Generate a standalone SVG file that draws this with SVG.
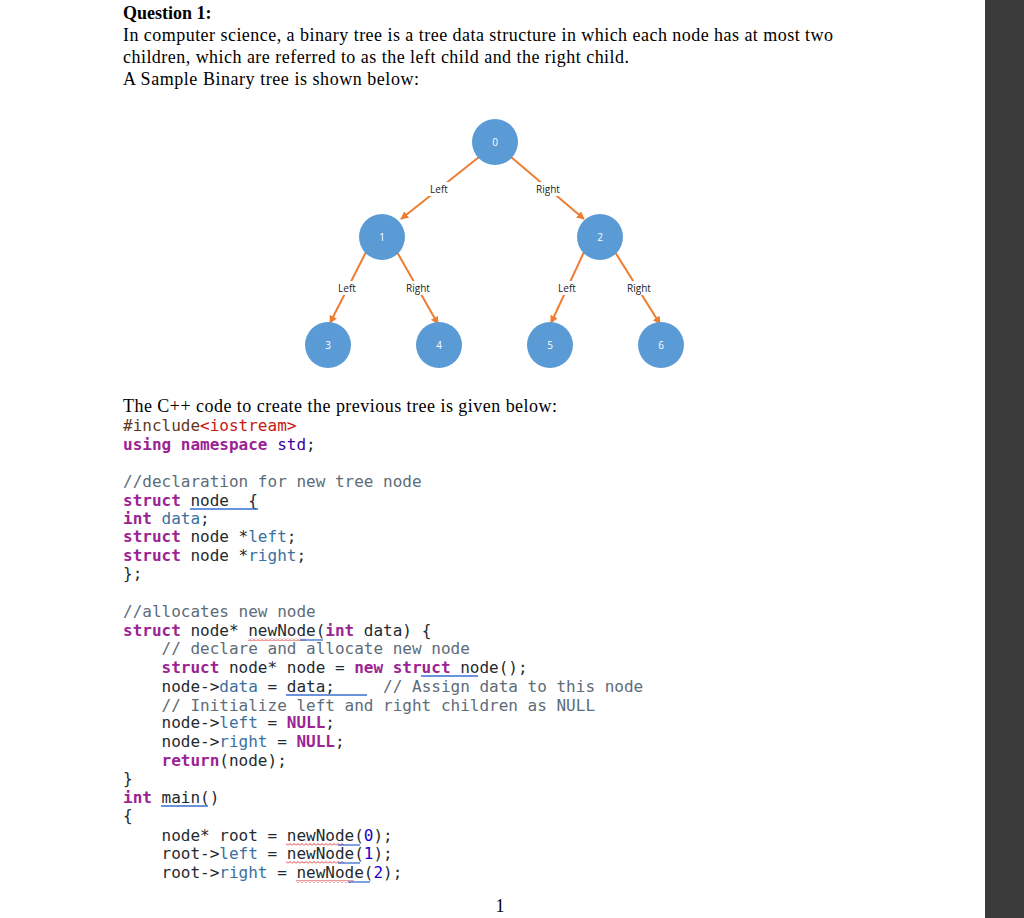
<svg xmlns="http://www.w3.org/2000/svg" width="1024" height="918" viewBox="0 0 1024 918">
<defs>
<style>
.q{font-family:"Liberation Serif",serif;font-size:18px;fill:#000}
.c{font-family:"DejaVu Sans Mono",monospace;font-size:16px;fill:#1f2a30;white-space:pre}
.k{fill:#9b2393;font-weight:bold}
.m{fill:#5d6c79}
.f{fill:#3a6fa0}
.n{fill:#1c00cf}
.lbl{font-family:"Open Sans","Liberation Sans",sans-serif;font-size:10px;fill:#222;text-anchor:middle}
.nd{fill:#5b9bd5}
.nt{font-family:"Open Sans","Liberation Sans",sans-serif;font-size:10px;fill:#fff;text-anchor:middle}
.e{stroke:#ed7d31;stroke-width:2;fill:none;marker-end:url(#ah)}
.u{stroke:#3a6fd0;stroke-width:1.3}
</style>
<marker id="ah" viewBox="0 0 10 10" refX="9" refY="5" markerWidth="4" markerHeight="4" orient="auto"><path d="M0,0L10,5L0,10z" fill="#ed7d31"/></marker>
<pattern id="sq" width="4" height="3" patternUnits="userSpaceOnUse"><path d="M0,2.5L2,0.5L4,2.5" stroke="#e02020" stroke-width="0.9" fill="none"/></pattern>
</defs>
<rect width="1024" height="918" fill="#fff"/>
<rect x="985" y="0" width="39" height="918" fill="#3b3b3b"/>
<text class="q" x="123" y="19" font-weight="bold">Question 1:</text>
<text class="q" x="123" y="41" textLength="710">In computer science, a binary tree is a tree data structure in which each node has at most two</text>
<text class="q" x="123" y="63" textLength="506">children, which are referred to as the left child and the right child.</text>
<text class="q" x="123" y="85" textLength="296">A Sample Binary tree is shown below:</text>
<g id="connectors">
<line class="e" x1="479" y1="157" x2="401" y2="219"/>
<line class="e" x1="511" y1="157" x2="584" y2="219"/>
<line class="e" x1="366" y1="252" x2="330" y2="323"/>
<line class="e" x1="397" y1="252" x2="438" y2="324"/>
<line class="e" x1="584" y1="252" x2="551" y2="323"/>
<line class="e" x1="615" y1="252" x2="660" y2="324"/>
<rect x="425" y="182" width="28" height="14" fill="#fff"/><text class="lbl" x="439" y="193">Left</text>
<rect x="532" y="182" width="32" height="14" fill="#fff"/><text class="lbl" x="548" y="193">Right</text>
<rect x="333" y="281" width="28" height="14" fill="#fff"/><text class="lbl" x="347" y="292">Left</text>
<rect x="402" y="281" width="32" height="14" fill="#fff"/><text class="lbl" x="418" y="292">Right</text>
<rect x="553" y="281" width="28" height="14" fill="#fff"/><text class="lbl" x="567" y="292">Left</text>
<rect x="623" y="281" width="32" height="14" fill="#fff"/><text class="lbl" x="639" y="292">Right</text>
</g>
<g id="n0"><circle class="nd" cx="495" cy="142" r="23"/><text class="nt" x="495" y="146">0</text></g>
<g id="n1"><circle class="nd" cx="382" cy="237" r="23"/><text class="nt" x="382" y="241">1</text></g>
<g id="n2"><circle class="nd" cx="600" cy="237" r="23"/><text class="nt" x="600" y="241">2</text></g>
<g id="n3"><circle class="nd" cx="328" cy="345" r="23"/><text class="nt" x="328" y="349">3</text></g>
<g id="n4"><circle class="nd" cx="439" cy="345" r="23"/><text class="nt" x="439" y="349">4</text></g>
<g id="n5"><circle class="nd" cx="550" cy="345" r="23"/><text class="nt" x="550" y="349">5</text></g>
<g id="n6"><circle class="nd" cx="661" cy="345" r="23"/><text class="nt" x="661" y="349">6</text></g>
<text class="q" x="123" y="412" textLength="434">The C++ code to create the previous tree is given below:</text>
<g>
<text class="c" x="123" y="431" xml:space="preserve"><tspan fill="#643820">#include</tspan><tspan fill="#c41a16">&lt;iostream&gt;</tspan></text>
<text class="c" x="123" y="450" xml:space="preserve"><tspan class="k">using namespace</tspan> <tspan fill="#3900a0">std</tspan>;</text>
<text class="c m" x="123" y="487" xml:space="preserve">//declaration for new tree node</text>
<text class="c" x="123" y="506" xml:space="preserve"><tspan class="k">struct</tspan> node  {</text>
<text class="c" x="123" y="524" xml:space="preserve"><tspan class="k">int</tspan> <tspan class="f">data</tspan>;</text>
<text class="c" x="123" y="542" xml:space="preserve"><tspan class="k">struct</tspan> node *<tspan class="f">left</tspan>;</text>
<text class="c" x="123" y="561" xml:space="preserve"><tspan class="k">struct</tspan> node *<tspan class="f">right</tspan>;</text>
<text class="c" x="123" y="579" xml:space="preserve">};</text>
<text class="c m" x="123" y="617" xml:space="preserve">//allocates new node</text>
<text class="c" x="123" y="636" xml:space="preserve"><tspan class="k">struct</tspan> node* newNode(<tspan class="k">int</tspan> data) {</text>
<text class="c m" x="123" y="654" xml:space="preserve">    // declare and allocate new node</text>
<text class="c" x="123" y="673" xml:space="preserve">    <tspan class="k">struct</tspan> node* node = <tspan class="k">new struct</tspan> node();</text>
<text class="c" x="123" y="692" xml:space="preserve">    node-&gt;<tspan class="f">data</tspan> = data;     <tspan class="m">// Assign data to this node</tspan></text>
<text class="c m" x="123" y="711" xml:space="preserve">    // Initialize left and right children as NULL</text>
<text class="c" x="123" y="728" xml:space="preserve">    node-&gt;<tspan class="f">left</tspan> = <tspan class="k">NULL</tspan>;</text>
<text class="c" x="123" y="747" xml:space="preserve">    node-&gt;<tspan class="f">right</tspan> = <tspan class="k">NULL</tspan>;</text>
<text class="c" x="123" y="766" xml:space="preserve">    <tspan class="k">return</tspan>(node);</text>
<text class="c" x="123" y="784" xml:space="preserve">}</text>
<text class="c" x="123" y="803" xml:space="preserve"><tspan class="k">int</tspan> main()</text>
<text class="c" x="123" y="821" xml:space="preserve">{</text>
<text class="c" x="123" y="841" xml:space="preserve">    node* root = newNode(<tspan class="n">0</tspan>);</text>
<text class="c" x="123" y="859" xml:space="preserve">    root-&gt;<tspan class="f">left</tspan> = newNode(<tspan class="n">1</tspan>);</text>
<text class="c" x="123" y="878" xml:space="preserve">    root-&gt;<tspan class="f">right</tspan> = newNode(<tspan class="n">2</tspan>);</text>
</g>
<g id="marks">
<line class="u" x1="190" y1="509" x2="258" y2="509"/>
<rect x="248" y="638" width="58" height="3" fill="url(#sq)"/><line class="u" x1="300" y1="640" x2="323" y2="640"/>
<line class="u" x1="421" y1="676" x2="478" y2="676"/>
<line class="u" x1="286" y1="695" x2="367" y2="695"/>
<line class="u" x1="161" y1="806" x2="208" y2="806"/>
<rect x="286" y="843" width="58" height="3" fill="url(#sq)"/><line class="u" x1="338" y1="845" x2="360" y2="845"/>
<rect x="286" y="861" width="58" height="3" fill="url(#sq)"/><line class="u" x1="338" y1="863" x2="360" y2="863"/>
<rect x="296" y="880" width="58" height="3" fill="url(#sq)"/><line class="u" x1="348" y1="882" x2="370" y2="882"/>
</g>
<text class="q" x="500" y="912" font-size="14" text-anchor="middle" fill="#444">1</text>
</svg>
